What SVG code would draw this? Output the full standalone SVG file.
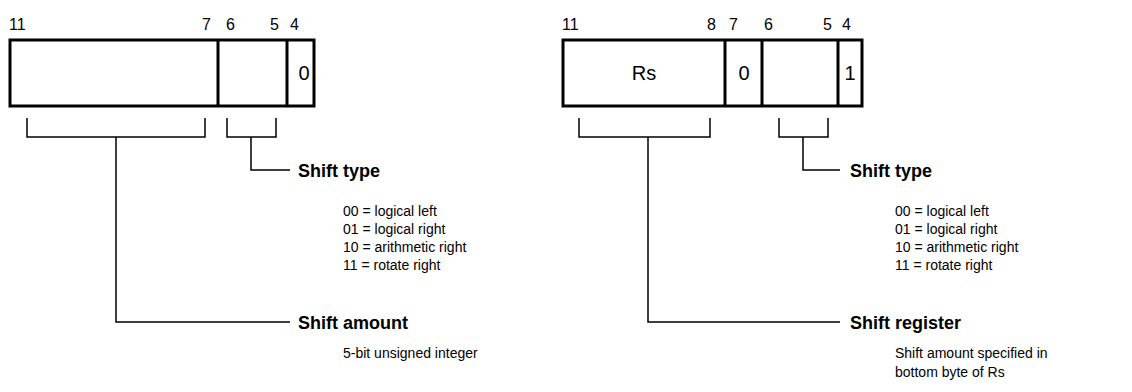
<svg xmlns="http://www.w3.org/2000/svg" width="1132" height="392" viewBox="0 0 1132 392">
<style>
text{font-family:"Liberation Sans",Arial,sans-serif;fill:#000}
.bit{font-size:16px}
.cell{font-size:20px}
.head{font-size:18px;font-weight:bold}
.sub{font-size:14px}
.box{fill:#fff;stroke:#000;stroke-width:3}
.div{stroke:#000;stroke-width:3}
.conn{fill:none;stroke:#000;stroke-width:1.5}
</style>
<rect width="1132" height="392" fill="#fff"/>
<g id="left-register">
<text class="bit" x="9" y="30">11</text>
<text class="bit" x="211" y="30" text-anchor="end">7</text>
<text class="bit" x="226" y="30">6</text>
<text class="bit" x="279" y="30" text-anchor="end">5</text>
<text class="bit" x="290" y="30">4</text>
<rect class="box" x="10" y="40" width="304" height="66"/>
<line class="div" x1="218" y1="40" x2="218" y2="106"/>
<line class="div" x1="287" y1="40" x2="287" y2="106"/>
<text class="cell" x="304" y="80" text-anchor="middle">0</text>
</g>
<g id="right-register">
<text class="bit" x="562" y="30">11</text>
<text class="bit" x="716" y="30" text-anchor="end">8</text>
<text class="bit" x="729" y="30">7</text>
<text class="bit" x="764" y="30">6</text>
<text class="bit" x="832" y="30" text-anchor="end">5</text>
<text class="bit" x="842" y="30">4</text>
<rect class="box" x="563" y="40" width="299" height="66"/>
<line class="div" x1="725" y1="40" x2="725" y2="106"/>
<line class="div" x1="762" y1="40" x2="762" y2="106"/>
<line class="div" x1="838" y1="40" x2="838" y2="106"/>
<text class="cell" x="644" y="80" text-anchor="middle">Rs</text>
<text class="cell" x="744" y="80" text-anchor="middle">0</text>
<text class="cell" x="850" y="80" text-anchor="middle">1</text>
</g>
<g id="connectors">
<path class="conn" d="M27 118V137H205V118M116 137V322H290"/>
<path class="conn" d="M227 118V137H276V118M251 137V170H290"/>
<path class="conn" d="M579 118V137H710V118M648 137V322H840"/>
<path class="conn" d="M779 118V137H828V118M803 137V170H840"/>
</g>
<g id="left-shift-type">
<text class="head" x="298" y="177">Shift type</text>
<text class="sub" x="343" y="216">00 = logical left</text>
<text class="sub" x="343" y="234">01 = logical right</text>
<text class="sub" x="343" y="252">10 = arithmetic right</text>
<text class="sub" x="343" y="270">11 = rotate right</text>
</g>
<g id="left-shift-amount">
<text class="head" x="298" y="329">Shift amount</text>
<text class="sub" x="343" y="358">5-bit unsigned integer</text>
</g>
<g id="right-shift-type">
<text class="head" x="850" y="177">Shift type</text>
<text class="sub" x="895" y="216">00 = logical left</text>
<text class="sub" x="895" y="234">01 = logical right</text>
<text class="sub" x="895" y="252">10 = arithmetic right</text>
<text class="sub" x="895" y="270">11 = rotate right</text>
</g>
<g id="right-shift-register">
<text class="head" x="850" y="329">Shift register</text>
<text class="sub" x="895" y="358">Shift amount specified in</text>
<text class="sub" x="895" y="377">bottom byte of Rs</text>
</g>
</svg>
